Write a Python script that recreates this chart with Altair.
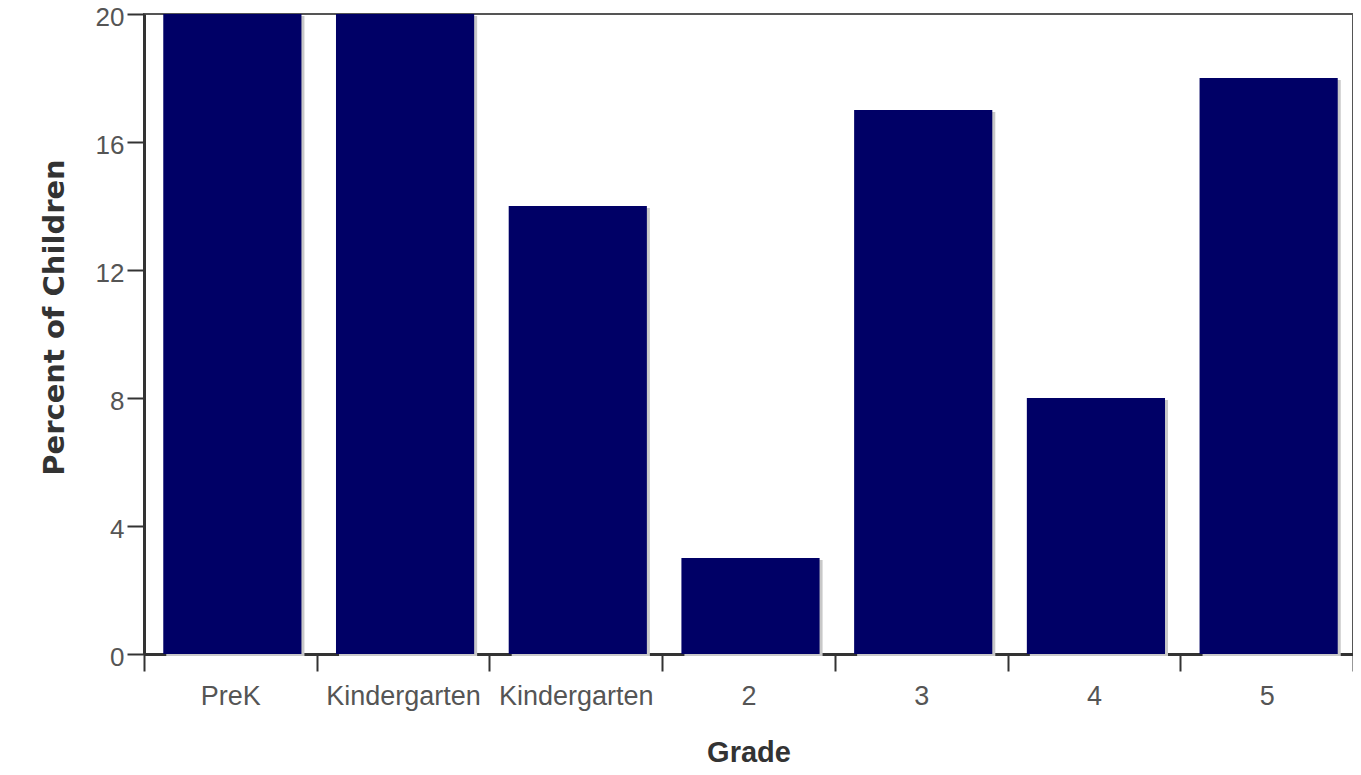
import json
import altair as alt
import pandas as pd

grades = ["PreK", "Kindergarten", "Kindergarten", "2", "3", "4", "5"]
percents = [20, 20, 14, 3, 17, 8, 18]

df = pd.DataFrame({"idx": list(range(len(grades))), "grade": grades, "pct": percents})

label_expr = json.dumps(grades) + "[datum.value]"

x_enc = alt.X(
    "idx:O",
    scale=alt.Scale(paddingInner=0, paddingOuter=0),
    axis=alt.Axis(
        title="Grade",
        labelExpr=label_expr,
        labelAngle=0,
        tickBand="extent",
        tickSize=17,
        tickWidth=2,
        tickColor="#333333",
        domainColor="#333333",
        domainWidth=3,
        labelFont="Liberation Sans",
        labelFontSize=27,
        labelColor="#555555",
        labelPadding=12,
        titleFont="Liberation Sans",
        titleFontSize=29,
        titleFontWeight="bold",
        titleColor="#333333",
        titlePadding=29,
    ),
)

y_enc = alt.Y(
    "pct:Q",
    scale=alt.Scale(domain=[0, 20], nice=False),
    axis=alt.Axis(
        title="Percent of Children",
        values=[0, 4, 8, 12, 16, 20],
        grid=False,
        tickSize=17,
        tickWidth=2,
        tickColor="#333333",
        domainColor="#333333",
        domainWidth=3,
        labelFont="Liberation Sans",
        labelFontSize=26,
        labelColor="#555555",
        labelPadding=3,
        labelOffset=3,
        titleFont="DejaVu Sans",
        titleFontSize=29,
        titleFontWeight="bold",
        titleColor="#333333",
        titlePadding=26,
        titleY=303,
    ),
)

base = alt.Chart(df)

shadow = base.mark_bar(
    color="#c8c8c8", xOffset=5, yOffset=2, width=alt.RelativeBandSize(0.8)
).encode(x=x_enc, y=y_enc)
bars = base.mark_bar(
    color="#000066", xOffset=2, width=alt.RelativeBandSize(0.8)
).encode(x=x_enc, y=y_enc)

chart = (
    alt.layer(shadow, bars)
    .properties(
        width=1209,
        height=640,
        autosize=alt.AutoSizeParams(type="none"),
        padding={"left": 136, "top": 6, "right": 0, "bottom": 113},
    )
    .configure(background="white")
    .configure_view(stroke="#555555", strokeWidth=2)
)

chart.save("out.html", embed_options={"renderer": "svg", "actions": False})
